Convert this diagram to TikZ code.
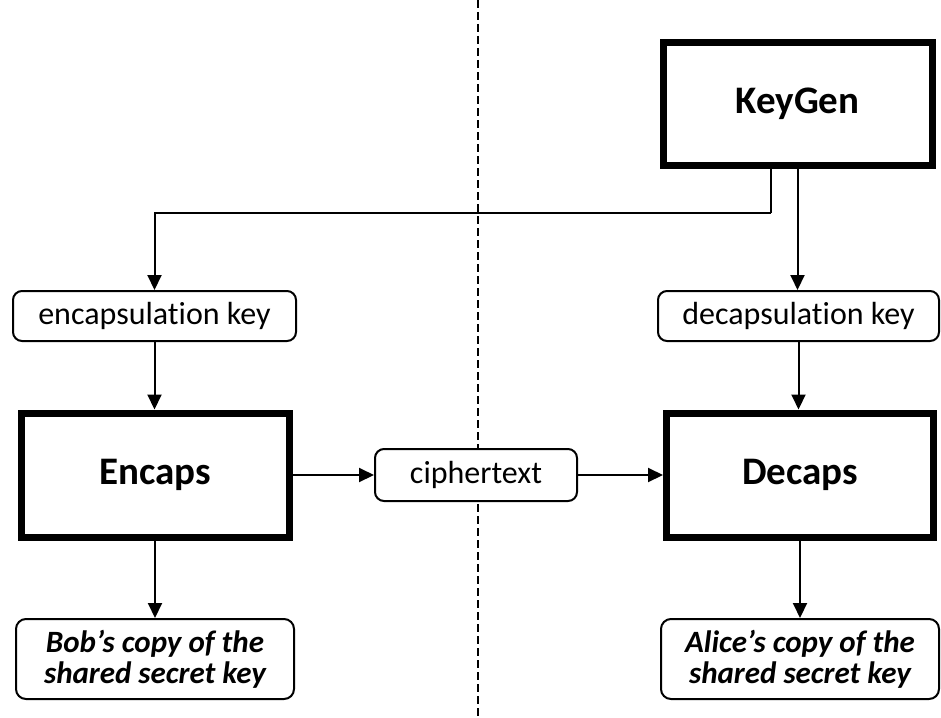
\documentclass[tikz,border=0pt]{standalone}
\usepackage{fontspec}
\setmainfont{Carlito}[Ligatures={NoCommon}]
\usetikzlibrary{arrows.meta,calc}
\begin{document}
\begin{tikzpicture}[x=1pt,y=-1pt,
  thickbox/.style={draw=black,line width=7pt,fill=white,inner sep=0pt,font=\fontsize{39}{42}\selectfont\bfseries},
  thinbox/.style={draw=black,line width=2pt,fill=white,rounded corners=9pt,inner sep=0pt,font=\fontsize{32}{34}\selectfont},
  resbox/.style={draw=black,line width=2pt,fill=white,rounded corners=10pt,inner sep=0pt,align=center,font=\fontsize{31}{31}\selectfont\bfseries\itshape},
  arr/.style={line width=2pt,-{Triangle[width=14pt,length=15pt]}}]
\path[use as bounding box,fill=white] (0,0) rectangle (941,717);
\coordinate (dtop) at (478,0);
\coordinate (dbot) at (478,717);
\draw[line width=1.3pt,dash pattern=on 8pt off 4pt] (dtop) -- (dbot);

\node[thickbox,minimum width=269pt,minimum height=122pt] (keygen) at (797.5,104) {KeyGen};
\node[thinbox,minimum width=283pt,minimum height=50pt] (enckey) at (154.5,316) {encapsulation key};
\node[thinbox,minimum width=281pt,minimum height=50pt] (deckey) at (798.5,316) {decapsulation key};
\node[thickbox,minimum width=268pt,minimum height=124pt] (encaps) at (155,475) {Encaps};
\node[thickbox,minimum width=267pt,minimum height=124pt] (decaps) at (800,475) {Decaps};
\node[thinbox,minimum width=202pt,minimum height=52pt] (ct) at (476,475) {ciphertext};
\node[resbox,minimum width=278pt,minimum height=80pt] (bob) at (155,659) {Bob’s copy of the\\shared secret key};
\node[resbox,minimum width=278pt,minimum height=80pt] (alice) at (800,659) {Alice’s copy of the\\shared secret key};

\draw[line width=2pt] ([xshift=-26.5pt,yshift=3.5pt]keygen.south) -- ++(0,48) coordinate (kb);
\draw[arr] (kb) -| (enckey.north);
\draw[arr] ([yshift=3.5pt]keygen.south) -- (keygen.south |- deckey.north);
\draw[arr] (enckey.south) -- (enckey.south |- encaps.north);
\draw[arr] (deckey.south) -- (deckey.south |- decaps.north);
\draw[arr] (encaps.east) -- (ct.west);
\draw[arr] (ct.east) -- (decaps.west);
\draw[arr] (encaps.south) -- (bob.north);
\draw[arr] ([yshift=3.5pt]decaps.south) -- (alice.north);
\end{tikzpicture}
\end{document}
